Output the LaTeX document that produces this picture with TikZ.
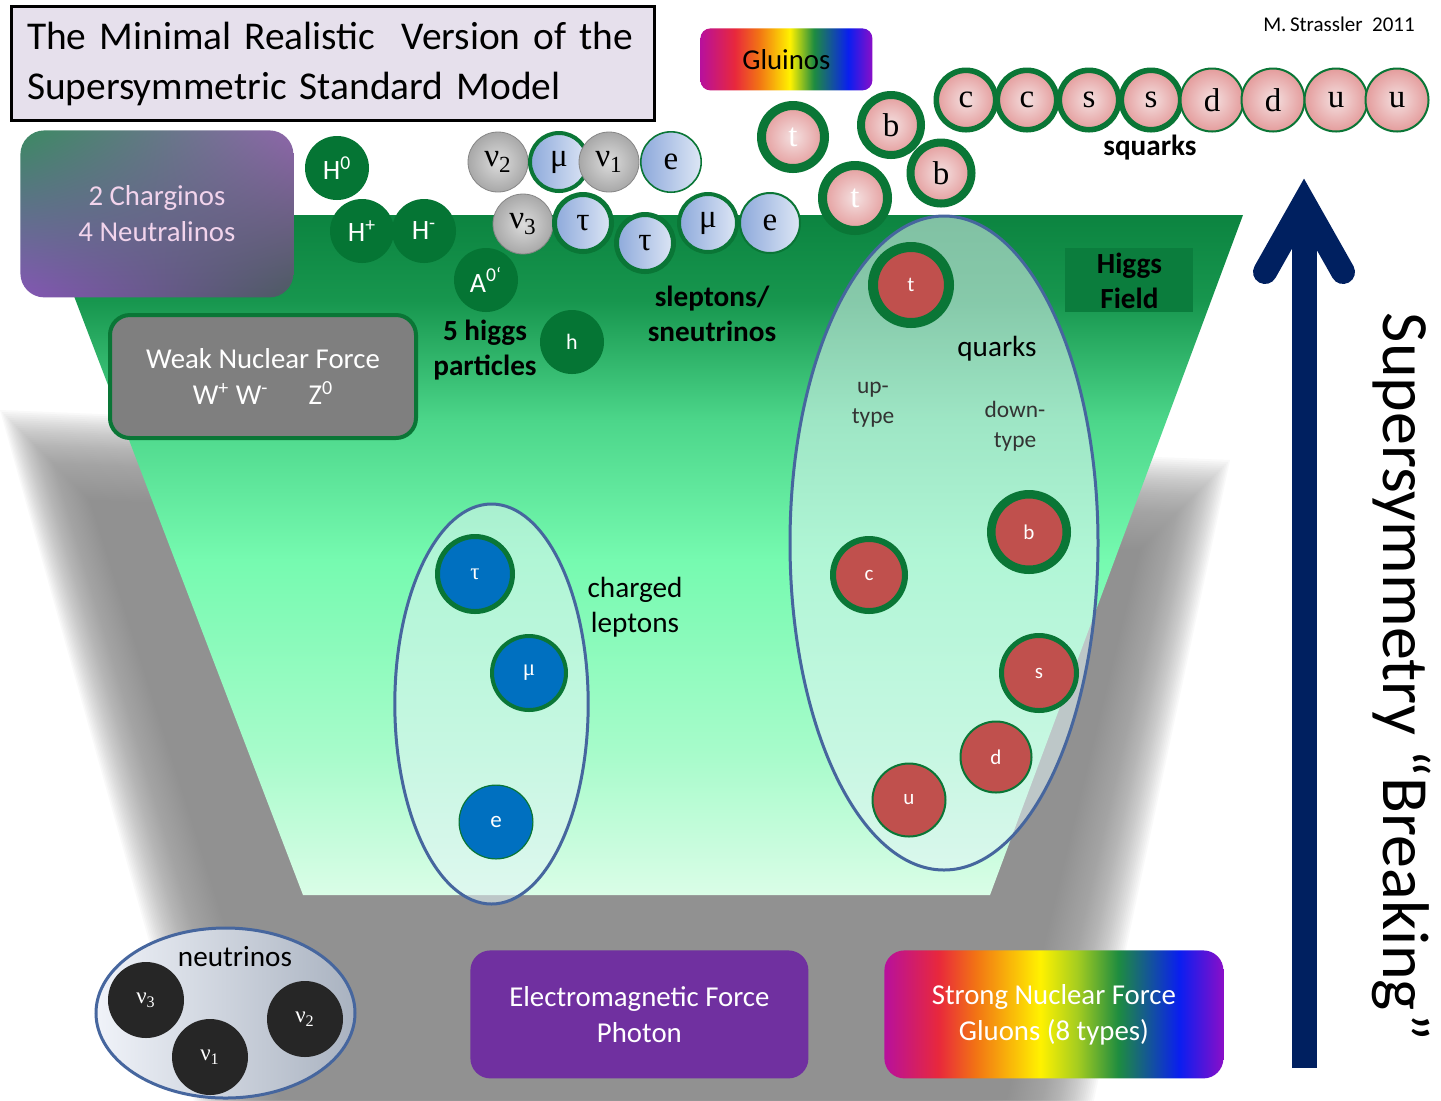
\documentclass[tikz,border=0pt]{standalone}
\usepackage{fontspec}
\setmainfont{Carlito}
\newfontfamily\griego{Liberation Serif}
\usetikzlibrary{positioning}
\usetikzlibrary{shapes.geometric}
\usetikzlibrary{shadings}

% Colores
\definecolor{verdehiggs}{HTML}{057534}
\definecolor{anillo}{HTML}{0A7636}
\definecolor{verdecampo}{HTML}{0B7D3D}
\definecolor{rojoquark}{HTML}{C0504D}
\definecolor{azullepton}{HTML}{0070C0}
\definecolor{marino}{HTML}{002060}
\definecolor{morado}{HTML}{7030A0}
\definecolor{lavanda}{HTML}{E6E0EC}
\definecolor{grisfuerza}{HTML}{7F7F7F}
\definecolor{sombra}{HTML}{919191}
\definecolor{bordeazul}{HTML}{46669E}
\definecolor{blancoel}{HTML}{E2F4F6}
\definecolor{rosa1}{HTML}{F4E0E0}
\definecolor{rosa2}{HTML}{E49C9C}
\definecolor{azul1}{HTML}{8DA9DB}
\definecolor{azul2}{HTML}{DDE6F5}
\definecolor{gris1}{HTML}{DCDCDC}
\definecolor{gris2}{HTML}{A8A8A8}
\definecolor{rosachar}{HTML}{F2D4EC}
\definecolor{neuizq}{HTML}{F0F3F9}
\definecolor{neuder}{HTML}{A9B2C0}
% Caja de charginos
\definecolor{charsi}{HTML}{3B8A62}
\definecolor{charsd}{HTML}{8E66AA}
\definecolor{charii}{HTML}{8456B4}
\definecolor{charid}{HTML}{4C5A62}
% Degradado del campo
\definecolor{vtop}{HTML}{0C8440}
\definecolor{v5}{HTML}{17964E}
\definecolor{v4}{HTML}{4CD68A}
\definecolor{v3}{HTML}{76FAB0}
\definecolor{v2}{HTML}{A6FBCA}
\definecolor{vbot}{HTML}{DAFDE7}
% Arcoiris
\definecolor{arc1}{HTML}{B8109C}
\definecolor{arc2}{HTML}{E8283C}
\definecolor{arc3}{HTML}{F27414}
\definecolor{arc4}{HTML}{FFF200}
\definecolor{arc5}{HTML}{A4CC20}
\definecolor{arc6}{HTML}{1E8C40}
\definecolor{arc7}{HTML}{0A1EF0}
\definecolor{arc8}{HTML}{8A0EC8}

\pgfdeclareverticalshading{campoverde}{100bp}{color(0bp)=(vbot); color(25bp)=(vbot); color(35.7bp)=(v2); color(49.6bp)=(v3); color(59.9bp)=(v4); color(68.7bp)=(v5); color(75bp)=(vtop); color(100bp)=(vtop)}
\pgfdeclarehorizontalshading{arcogluino}{100bp}{color(0bp)=(arc1); color(25bp)=(arc1); color(35bp)=(arc2); color(42bp)=(arc3); color(51bp)=(arc4); color(58bp)=(arc6); color(68bp)=(arc7); color(75bp)=(arc8); color(100bp)=(arc8)}
\pgfdeclarehorizontalshading{arcofuerte}{100bp}{color(0bp)=(arc1); color(25bp)=(arc1); color(33bp)=(arc2); color(38.5bp)=(arc3); color(48bp)=(arc4); color(53.5bp)=(arc5); color(59.5bp)=(arc6); color(68.5bp)=(arc7); color(75bp)=(arc8); color(100bp)=(arc8)}

\begin{document}
\begin{tikzpicture}[x=0.5pt, y=-0.5pt,
    etiqueta/.style={align=center, inner sep=0pt, font=\fontsize{14.6}{17.5}\selectfont},
    negrita/.style={etiqueta, font=\fontsize{14.6}{17.5}\selectfont\bfseries},
    chica/.style={align=center, inner sep=0pt, text=black!80, font=\fontsize{11.7}{15}\selectfont},
    caja/.style={anchor=north west, rounded corners=10pt, align=center, inner sep=0pt, font=\fontsize{14.4}{18}\selectfont},
    higgs/.style={circle, fill=verdehiggs, text=white, inner sep=0pt, minimum size=32pt, font=\fontsize{14}{14}\selectfont},
    sneu/.style={circle, draw=gris2!80!black, line width=0.4pt, inner color=gris1, outer color=gris2, inner sep=0pt, minimum size=30pt, font=\griego\fontsize{16.5}{16.5}\selectfont},
    slep/.style={circle, draw=anillo, line width=#1, left color=azul1, right color=azul2, inner sep=0pt, minimum size=31pt-#1, font=\griego\fontsize{16.5}{16.5}\selectfont},
    squark/.style 2 args={circle, draw=anillo, line width=#1, inner color=rosa1, outer color=rosa2, inner sep=0pt, minimum size=#2-#1, font=\griego\fontsize{16.5}{16.5}\selectfont},
    quark/.style 2 args={circle, draw=anillo, line width=#1, fill=rojoquark, text=white, inner sep=0pt, minimum size=#2-#1, font=\fontsize{10.5}{10.5}\selectfont},
    lepton/.style 2 args={circle, draw=anillo, line width=#1, fill=azullepton, text=white, inner sep=0pt, minimum size=#2-#1, font=\griego\fontsize{11.5}{11.5}\selectfont},
    neutrino/.style={circle, fill=black!85, text=white, inner sep=0pt, minimum size=38pt, font=\griego\fontsize{11.5}{11.5}\selectfont},
    grupo/.style={ellipse, draw=bordeazul, line width=1.5pt, fill=blancoel, fill opacity=0.55, inner sep=0pt}]

    % Fondo
    \fill[white] (0,0) rectangle (1441,1100);
    \useasboundingbox (0,0) rectangle (1441,1100);

    % Sombra difusa
    \foreach \d in {-30,-28,...,90}
        \fill[sombra, opacity=0.05] ({30+\d},{440+\d}) -- ({1200-\d},{490+\d}) -- ({1047-\d},1180) -- ({246+\d},1180) -- cycle;

    % Campo de Higgs (trapecio verde)
    \shade[shading=campoverde] (43,215) -- (1243,215) -- (990,895) -- (303,895) -- cycle;

    % Titulo y autor
    \node[draw=black, line width=1.5pt, fill=lavanda, anchor=north west, minimum width=321.5pt, minimum height=57pt,
          text width=306pt, inner xsep=7.75pt, align=left, font=\fontsize{19.7}{25}\selectfont] (titulo) at (10,5)
          {The Minimal Realistic\ \ Version of the\\Supersymmetric Standard Model};
    \node[font=\fontsize{10.5}{10.5}\selectfont] (autor) at (1339,24) {M.\,Strassler\ \ 2011};

    % Cajas
    \node[caja, rounded corners=5pt, shade, shading=arcogluino, minimum width=86pt, minimum height=31pt] (gluinos) at (700,28) {Gluinos};
    \node[caja, rounded corners=12pt, upper left=charsi, upper right=charsd, lower left=charii, lower right=charid,
          text=rosachar, minimum width=136.5pt, minimum height=83.5pt] (charginos) at (20,130) {2 Charginos\\4 Neutralinos};
    \node[caja, fill=grisfuerza, draw=anillo, line width=2pt, text=white, minimum width=153pt, minimum height=61.5pt] (debil) at (108,313)
          {Weak Nuclear Force\\W\textsuperscript{+} W\textsuperscript{-}\hspace{20pt}Z\textsuperscript{0}};
    \node[anchor=north west, fill=verdecampo, minimum width=64pt, minimum height=32pt, inner sep=0pt, align=center,
          font=\fontsize{14.6}{17.5}\selectfont\bfseries] (campo) at (1065,248) {Higgs\\Field};
    \node[caja, fill=morado, text=white, minimum width=169pt, minimum height=64pt] (electro) at (470,950) {Electromagnetic Force\\Photon};
    \node[caja, shade, shading=arcofuerte, text=white, minimum width=169.5pt, minimum height=64pt] (fuerte) at (884,950) {Strong Nuclear Force\\Gluons (8 types)};

    % Grupos (elipses)
    \node[grupo, minimum width=154pt, minimum height=327pt] (quarks) at (944,543) {};
    \node[grupo, minimum width=96.7pt, minimum height=200pt] (leptones) at (491.5,704) {};
    \node[ellipse, draw=bordeazul, line width=1.5pt, left color=neuizq, right color=neuder,
          minimum width=129.5pt, minimum height=85pt] (neutrinos) at (225.5,1013) {};

    % Cinco higgs
    \node[higgs] (H0) at (337,168) {H\textsuperscript{0}};
    \node[higgs] (Hp) at (362,231) {H\textsuperscript{+}};
    \node[higgs] (Hm) at (424,231) {H\textsuperscript{-}};
    \node[higgs] (A0) at (486,280) {A\textsuperscript{0‘}};
    \node[higgs, font=\fontsize{11}{11}\selectfont] (h) at (572,342) {h};

    % Sleptones y sneutrinos
    \node[sneu] (nu2) at (498,162) {ν\textsubscript{2}};
    \node[slep=2pt] (mu1) at (559,162) {μ};
    \node[sneu] (nu1) at (609,162) {ν\textsubscript{1}};
    \node[slep=0.8pt] (e1) at (671,162) {e};
    \node[sneu] (nu3) at (523,224) {ν\textsubscript{3}};
    \node[slep=2.5pt] (tau1) at (583,223) {τ};
    \node[slep=2.5pt] (tau2) at (645,243) {τ};
    \node[slep=2pt] (mu2) at (708,223) {μ};
    \node[slep=1pt] (e2) at (770,223) {e};

    % Squarks
    \node[squark={4.5pt}{36pt}, text=white] (t1) at (793,137) {t};
    \node[squark={4pt}{34pt}] (b1) at (891,125) {b};
    \node[squark={4.5pt}{37pt}, text=white] (t2) at (855,198) {t};
    \node[squark={4pt}{34.5pt}] (b2) at (941,173) {b};
    \foreach \n/\x/\w in {c/966/2.8pt, c/1027/2.8pt, s/1089/2.8pt, s/1151/2.8pt, d/1212/1pt, d/1273/1pt, u/1336/1pt, u/1397/1pt}
        \node[squark={\w}{32.5pt}] (sq\x) at (\x,100) {\n};

    % Quarks
    \node[quark={5pt}{43pt}] (qt) at (911,285) {t};
    \node[quark={4.25pt}{42pt}] (qb) at (1029,532) {b};
    \node[quark={3pt}{39pt}] (qc) at (869,575) {c};
    \node[quark={2.5pt}{40pt}] (qs) at (1039,673) {s};
    \node[quark={1pt}{36.5pt}] (qd) at (996,757) {d};
    \node[quark={1pt}{37.5pt}] (qu) at (909,800) {u};

    % Leptones cargados
    \node[lepton={2.5pt}{40pt}] (ltau) at (475,574) {τ};
    \node[lepton={2pt}{39pt}] (lmu) at (529,673) {μ};
    \node[lepton={0.6pt}{37.5pt}, font=\fontsize{11.5}{11.5}\selectfont] (le) at (496,822) {e};

    % Neutrinos
    \node[neutrino] (n3) at (146,1000) {ν\textsubscript{3}};
    \node[neutrino] (n1) at (210,1057) {ν\textsubscript{1}};
    \node[neutrino] (n2) at (305,1019) {ν\textsubscript{2}};

    % Etiquetas
    \node[negrita] (cincoh) at (485,350) {5 higgs\\particles};
    \node[negrita] (sleplab) at (712,314) {sleptons/\\sneutrinos};
    \node[negrita] (squarklab) at (1150,148) {squarks};
    \node[etiqueta] (quarklab) at (997,349) {quarks};
    \node[chica] (arriba) at (873,405) {up-\\type};
    \node[chica] (abajo) at (1015,426) {down-\\type};
    \node[etiqueta] (cargados) at (635,607) {charged\\leptons};
    \node[etiqueta] (nulab) at (235,957) {neutrinos};

    % Flecha de ruptura
    \coordinate (base) at (1304,1068);
    \coordinate (cima) at (1304,212);
    \coordinate (vertice) at (1304,203);
    \coordinate (alai) at (1265,272);
    \coordinate (alad) at (1343,272);
    \draw[marino, line width=12.5pt] (base) -- (cima);
    \draw[marino, line width=12pt, line cap=round] (alai) -- (vertice) -- (alad);
    \node[rotate=-90, anchor=base, font=\fontsize{33}{33}\selectfont] (ruptura) at (1383,677) {Supersymmetry “Breaking”};
\end{tikzpicture}
\end{document}
